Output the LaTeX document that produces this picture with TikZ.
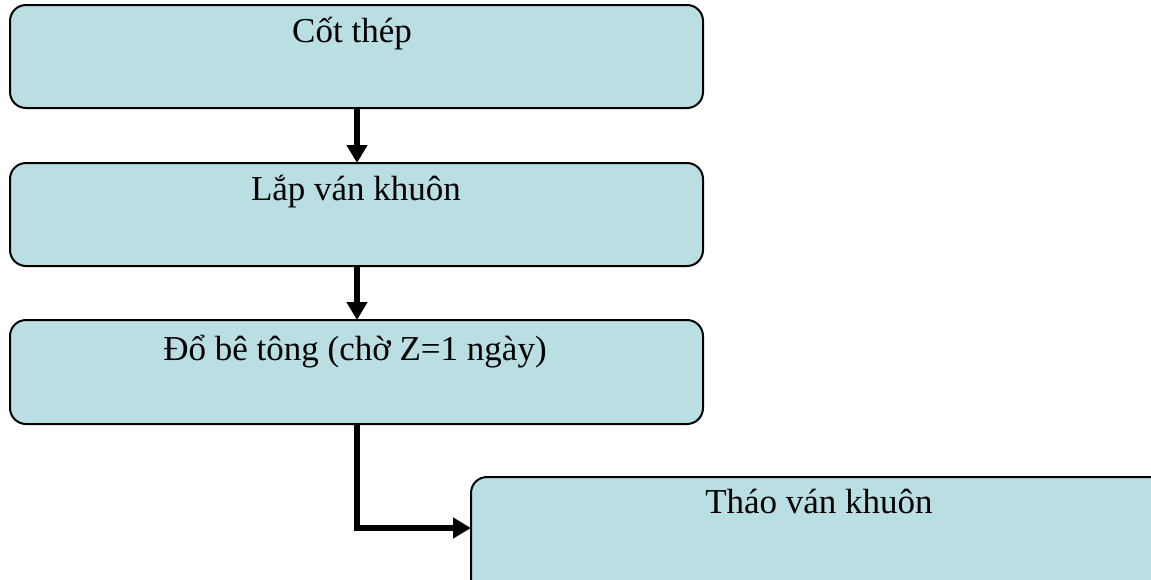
\documentclass[tikz,border=0pt]{standalone}
\usepackage{fontspec}
\setmainfont{Liberation Serif}
\usetikzlibrary{arrows.meta}
\definecolor{boxfill}{RGB}{185,223,226}
\begin{document}
\begin{tikzpicture}[x=1pt,y=-1pt,
  stepbox/.style={draw=black,line width=2pt,fill=boxfill,rounded corners=16pt},
  lbl/.style={font=\fontsize{35}{40}\selectfont,anchor=base,inner sep=0pt},
  conn/.style={line width=6pt,-{Triangle[length=18pt,width=20pt]}}]
\useasboundingbox (0,0) rectangle (1151,579);
\clip (0,0) rectangle (1151,579);
\draw[stepbox] (10,5) rectangle (703,108);
\draw[stepbox] (10,163) rectangle (703,266);
\draw[stepbox] (10,320) rectangle (703,424);
\draw[stepbox] (471,477) rectangle (1168,600);
\coordinate (b1s) at (357,108);
\coordinate (b2n) at (357,163);
\coordinate (b2s) at (357,266);
\coordinate (b3n) at (357,320);
\coordinate (b3s) at (357,424);
\coordinate (b4w) at (471,528);
\node[lbl] (t1) at (352,42) {Cốt thép};
\node[lbl] (t2) at (356,200) {Lắp ván khuôn};
\node[lbl] (t3) at (355,360) {Đổ bê tông (chờ Z=1 ngày)};
\node[lbl] (t4) at (819,513) {Tháo ván khuôn};
\draw[conn] (b1s) -- (b2n);
\draw[conn] (b2s) -- (b3n);
\draw[conn] (b3s) |- (b4w);
\end{tikzpicture}
\end{document}
